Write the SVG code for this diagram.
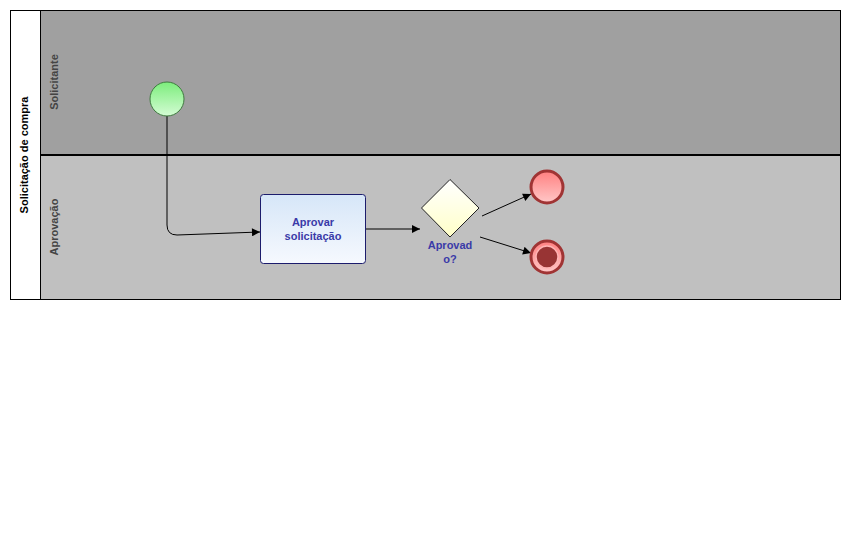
<svg xmlns="http://www.w3.org/2000/svg" width="846" height="558" viewBox="0 0 846 558">
  <defs>
    <linearGradient id="gStart" x1="0" y1="0" x2="0" y2="1">
      <stop offset="0" stop-color="#7ced7c"/>
      <stop offset="1" stop-color="#d4fcd4"/>
    </linearGradient>
    <linearGradient id="gTask" x1="0" y1="0" x2="0" y2="1">
      <stop offset="0" stop-color="#d6e6f8"/>
      <stop offset="1" stop-color="#f6f9fe"/>
    </linearGradient>
    <linearGradient id="gGate" x1="0" y1="0" x2="0" y2="1">
      <stop offset="0" stop-color="#ffffff"/>
      <stop offset="1" stop-color="#ffffc8"/>
    </linearGradient>
    <linearGradient id="gEnd" x1="0" y1="0" x2="0" y2="1">
      <stop offset="0" stop-color="#ff8080"/>
      <stop offset="1" stop-color="#ffc8c8"/>
    </linearGradient>
    <marker id="arrow" viewBox="0 0 10 10" refX="10" refY="5" markerWidth="10" markerHeight="8" markerUnits="userSpaceOnUse" orient="auto">
      <path d="M0,0 L10,5 L0,10 z" fill="#000"/>
    </marker>
  </defs>
  <style>
    .lbl { font-family: "Liberation Sans", Arial, sans-serif; font-weight: bold; font-size: 11px; }
    .lane { fill: #444; }
    .node { fill: #3a3aa8; text-anchor: middle; }
    .edge { fill: none; stroke: #000; stroke-width: 1; marker-end: url(#arrow); }
  </style>

  <rect width="846" height="558" fill="#fff"/>

  <!-- pool and lanes -->
  <g id="pool">
    <rect x="10.5" y="10.5" width="30" height="289" fill="#fff" stroke="#000"/>
    <rect x="40.5" y="10.5" width="800" height="145" fill="#a0a0a0" stroke="#000"/>
    <rect x="40.5" y="155.5" width="800" height="144" fill="#c0c0c0" stroke="#000"/>
    <line x1="40" y1="155" x2="841" y2="155" stroke="#000" stroke-width="2"/>
    <text class="lbl" text-anchor="middle" transform="translate(28,155) rotate(-90)">Solicitação de compra</text>
    <text class="lbl lane" text-anchor="middle" transform="translate(58,82) rotate(-90)">Solicitante</text>
    <text class="lbl lane" text-anchor="middle" transform="translate(58,227) rotate(-90)">Aprovação</text>
  </g>

  <!-- connectors -->
  <g id="connectors">
    <path class="edge" d="M167,116 L167,225 Q167,235 177,235 L260,232"/>
    <path class="edge" d="M365,229 L420,229"/>
    <path class="edge" d="M482,216 L531,194"/>
    <path class="edge" d="M480,237 L531,253"/>
  </g>

  <g id="start">
    <circle cx="167" cy="99" r="17" fill="url(#gStart)" stroke="#3f7a3f" stroke-width="1"/>
  </g>

  <g id="task">
    <rect x="260.5" y="194.5" width="105" height="69" rx="3" fill="url(#gTask)" stroke="#1c1c6c"/>
    <text class="lbl node" x="313" y="226">Aprovar</text>
    <text class="lbl node" x="313" y="240">solicitação</text>
  </g>

  <g id="gateway">
    <path d="M450,179.5 L479,208 L450,237 L421.5,208 Z" fill="url(#gGate)" stroke="#222"/>
    <text class="lbl node" x="450" y="249">Aprovad</text>
    <text class="lbl node" x="450" y="263">o?</text>
  </g>

  <g id="end-ok">
    <circle cx="547" cy="187" r="16" fill="url(#gEnd)" stroke="#a03434" stroke-width="3"/>
  </g>

  <g id="end-reject">
    <circle cx="547" cy="257" r="16" fill="url(#gEnd)" stroke="#a03434" stroke-width="3"/>
    <circle cx="547" cy="257" r="11" fill="#983434" stroke="#ffb4b4" stroke-width="1.5"/>
  </g>
</svg>
